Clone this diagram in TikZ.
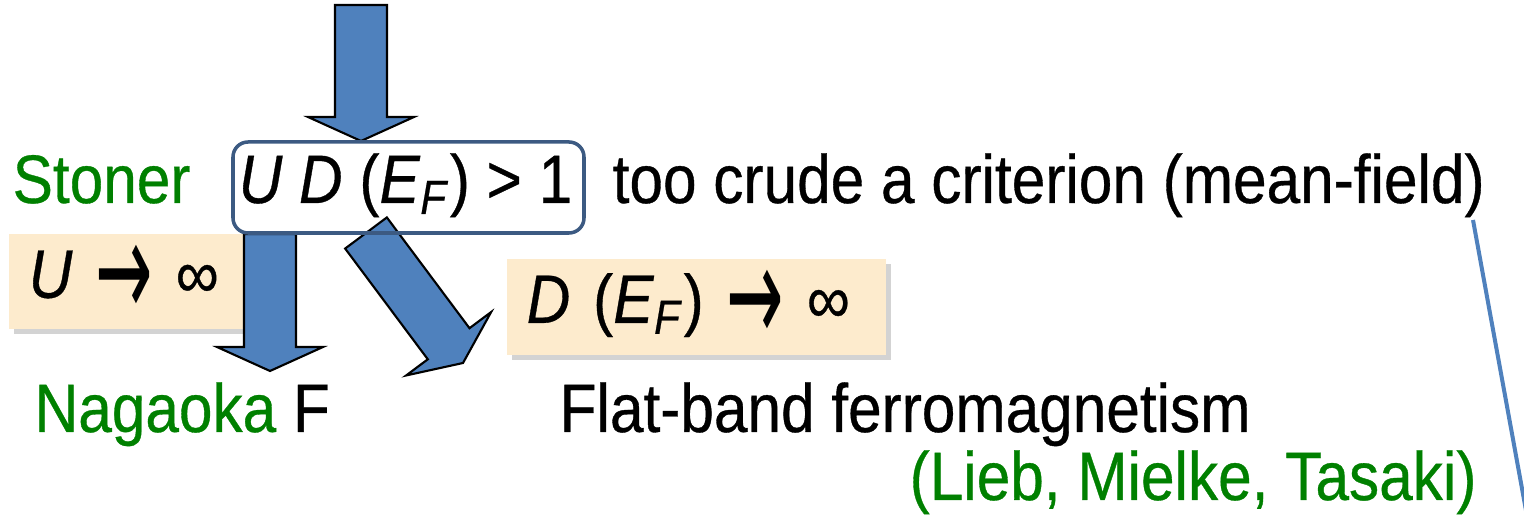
\documentclass[tikz,border=0pt]{standalone}
\usepackage{fontspec}
\setmainfont[FakeStretch=0.88, FakeBold=0.5]{Liberation Sans}
\newfontfamily\arrowfont{DejaVu Sans}
\usepackage{tikz}
\usetikzlibrary{calc,shadows}

\definecolor{stonergreen}{RGB}{0,128,0}
\definecolor{arrowblue}{RGB}{79,129,189}
\definecolor{framegray}{RGB}{60,90,130}
\definecolor{limitbeige}{RGB}{253,235,205}

\newcommand{\toarrow}{\raisebox{-0.2cm}{\scalebox{1.0}[2.0]{\arrowfont →}}}

\tikzset{
  txt/.style={anchor=base west, inner sep=0pt, font=\fontsize{19.5}{23}\selectfont},
  limitbox/.style={fill=limitbeige, inner xsep=0.2cm, align=left, anchor=north west,
    font=\fontsize{19.5}{23}\selectfont,
    drop shadow={shadow xshift=0.05cm, shadow yshift=-0.05cm, opacity=0.35}},
  fatbody/.style={fill=arrowblue, draw=black, line width=0.6pt, line join=miter},
}

% block arrow from #1 to #2
\newcommand{\fatarrow}[2]{%
  \coordinate (fh) at ($(#2)!0.24cm!(#1)$);
  \filldraw[fatbody] ($(#1)!0.26cm!90:(#2)$) -- ($(fh)!0.26cm!-90:(#1)$)
    -- ($(fh)!0.53cm!-90:(#1)$) -- (#2) -- ($(fh)!0.53cm!90:(#1)$)
    -- ($(fh)!0.26cm!90:(#1)$) -- ($(#1)!0.26cm!-90:(#2)$) -- cycle;
}

\begin{document}
\begin{tikzpicture}[x=0.01cm, y=-0.01cm]
\useasboundingbox (0,0) rectangle (1524,516);

% limits
\node[limitbox, text width=1.95cm, minimum height=0.83cm] (ulim) at (8,233)
  {\textit{U} \toarrow{} ∞};
\node[limitbox, text width=3.39cm, minimum height=0.96cm] (dlim) at (506,258)
  {\textit{D} (\textit{E}\textsubscript{\textit{F}}) \toarrow{} ∞};

% arrows
\coordinate (in) at (361,5);
\coordinate (intip) at (361,141);
\coordinate (lstart) at (270,234);
\coordinate (ltip) at (270,371);
\coordinate (dstart) at (366,233);
\coordinate (dtip) at (463,363);
\fatarrow{in}{intip}
\fatarrow{lstart}{ltip}
\fatarrow{dstart}{dtip}

% criterion line
\node[txt, text=stonergreen] (stoner) at (12,203) {Stoner};
\node[txt] (crit) at (238,203) {\textit{U D} (\textit{E}\textsubscript{\textit{F}}) > 1};
\draw[framegray, line width=1pt, rounded corners=0.15cm] (233,142) rectangle (584,233);
\node[txt] (crude) at (612,203) {too crude a criterion (mean-field)};

% results
\node[txt] (nagaoka) at (34,432) {\textcolor{stonergreen}{Nagaoka} F};
\node[txt] (flat) at (559,432) {Flat-band ferromagnetism};
\node[txt, text=stonergreen] (lmt) at (909,500) {(Lieb, Mielke, Tasaki)};

\coordinate (mf) at (1473,220);
\coordinate (mfend) at (1527,516);
\draw[arrowblue, line width=0.04cm] (mf) -- (mfend);
\end{tikzpicture}
\end{document}
